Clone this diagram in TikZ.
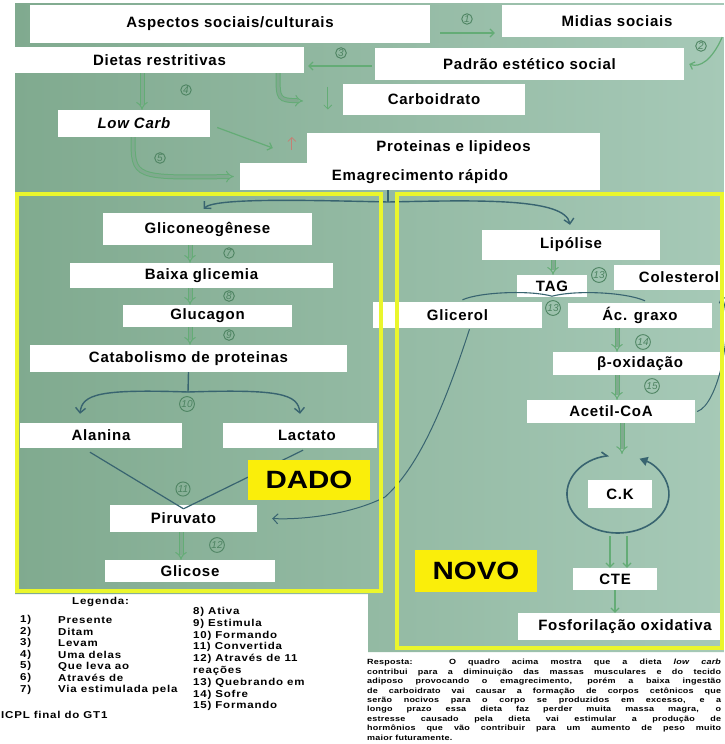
\documentclass[tikz,border=0pt]{standalone}
\usepackage{fontspec}
\setmainfont{Liberation Sans}
\newfontfamily\boxfont{Liberation Sans}[LetterSpace=5]
\newfontfamily\tagfont{Liberation Sans}[FakeStretch=1.18]
\newfontfamily\legfont{Liberation Sans}[FakeStretch=1.15,LetterSpace=8]
\newfontfamily\respfont{Liberation Sans}[FakeStretch=1.2,LetterSpace=3]
\usetikzlibrary{arrows.meta}

\definecolor{board}{RGB}{128,170,143}
\definecolor{boardlight}{RGB}{166,201,183}
\definecolor{frameyel}{RGB}{234,246,44}
\definecolor{tagyel}{RGB}{250,238,10}
\definecolor{penlight}{RGB}{100,172,118}
\definecolor{pennum}{RGB}{78,132,98}
\definecolor{pendark}{RGB}{56,100,112}
\definecolor{penred}{RGB}{196,128,116}

\begin{document}
\begin{tikzpicture}[x=1pt,y=-1pt,
  box/.style={fill=white, inner sep=0pt, font=\boxfont\bfseries\fontsize{15}{17}\selectfont},
  bigtag/.style={fill=tagyel, inner sep=0pt, font=\tagfont\bfseries\fontsize{25}{28}\selectfont},
  numlbl/.style={circle, draw=pennum, text=pennum, line width=0.9pt, inner sep=0.6pt, font=\itshape\fontsize{10}{10}\selectfont},
  pen/.style={draw=penlight, line width=1.2pt, -{Straight Barb[length=4pt,width=8pt]}},
  dbl/.style={draw=penlight, double=board, double distance=3pt, line width=1pt, -{Implies}},
  dline/.style={draw=pendark, line width=1.4pt},
  dpen/.style={dline, -{Straight Barb[length=5pt,width=10pt]}},
  frame/.style={draw=frameyel, line width=3.5pt},
  leg/.style={inner sep=0pt, anchor=west, font=\legfont\bfseries\fontsize{10}{12}\selectfont},
  resp/.style={inner sep=0pt, anchor=west, font=\respfont\bfseries\fontsize{7.5}{9}\selectfont},
]

% page and the photographed board
\useasboundingbox (0,0) rectangle (724,744);
\fill[white] (0,0) rectangle (724,744);
\shade[left color=board, right color=boardlight] (15,3) -- (724,3) -- (724,652) -- (368,652) -- (368,594) -- (15,594) -- cycle;

% top boxes
\node[box, minimum width=400pt, minimum height=38pt] (aspectos) at (230,24) {Aspectos sociais/culturais};
\node[box, minimum width=230pt, minimum height=32pt] (midias) at (617,21) {Midias sociais};
\node[box, minimum width=289pt, minimum height=26pt] (dietas) at (159.5,60) {Dietas restritivas};
\node[box, minimum width=309pt, minimum height=32pt] (padrao) at (529.5,64) {Padrão estético social};
\node[box, minimum width=182pt, minimum height=31pt] (carbo) at (434,99.5) {Carboidrato};
\node[box, minimum width=152pt, minimum height=27pt] (lowcarb) at (134,123.5) {\itshape Low Carb};
\node[box, minimum width=293pt, minimum height=30pt] (proteinas) at (453.5,148) {Proteinas e lipideos};
\node[box, minimum width=360pt, minimum height=27pt] (emagrec) at (420,176.5) {Emagrecimento rápido};

% left frame (DADO)
\node[box, minimum width=209pt, minimum height=32pt] (gliconeo) at (207.5,229) {Gliconeogênese};
\node[box, minimum width=263pt, minimum height=25pt] (baixa) at (201.5,275.5) {Baixa glicemia};
\node[box, minimum width=169pt, minimum height=22pt] (glucagon) at (207.5,316) {Glucagon};
\node[box, minimum width=317pt, minimum height=27pt] (catab) at (188.5,358.5) {Catabolismo de proteinas};
\node[box, minimum width=162pt, minimum height=25pt] (alanina) at (101,435.5) {Alanina};
\node[box, minimum width=154pt, minimum height=25pt] (lactato) at (300,435.5) {\hspace*{14pt}Lactato};
\node[box, minimum width=147pt, minimum height=27pt] (piruvato) at (183.5,518.5) {Piruvato};
\node[box, minimum width=170pt, minimum height=22pt] (glicose) at (190,571) {Glicose};

% right frame (NOVO)
\node[box, minimum width=178pt, minimum height=30pt] (lipolise) at (571,245) {Lipólise};
\node[box, minimum width=70pt, minimum height=22pt] (tag) at (552,286) {TAG};
\node[box, minimum width=130pt, minimum height=25pt] (colest) at (679,277.5) {Colesterol};
\node[box, minimum width=169pt, minimum height=26pt] (glicerol) at (457.5,315) {Glicerol};
\node[box, minimum width=144pt, minimum height=25pt] (acgraxo) at (640,315.5) {Ác. graxo};
\node[box, minimum width=174pt, minimum height=23pt] (betaox) at (640,363.5) {β-oxidação};
\node[box, minimum width=168pt, minimum height=23pt] (acetil) at (611,411.5) {Acetil-CoA};
\node[box, minimum width=64pt, minimum height=28pt] (ck) at (620,494) {C.K};
\node[box, minimum width=84pt, minimum height=22pt] (cte) at (615,579) {CTE};
\node[box, minimum width=214pt, minimum height=27pt] (fosfo) at (625,626.5) {Fosforilação oxidativa};

% hand drawn arrows, top
\draw[pen] ([shift={(10,9)}]aspectos.east) -- ([shift={(-7,12)}]midias.west);
\draw[pen] ([xshift=-10pt]midias.south east) .. controls (712,60) and (700,68) .. ([xshift=5pt]padrao.east);
\draw[pen] ([shift={(-3,2)}]padrao.west) -- ([shift={(4,6)}]dietas.east);
\draw[pen, line width=0.8pt] ([shift={(-15,-13)}]carbo.west) -- ([shift={(-15,10)}]carbo.west);
\draw[dbl] (dietas.south -| 142,0) -- (lowcarb.north -| 142,0);
\draw[dbl] (dietas.south -| 278,0) .. controls (278,100) .. (303,101);
\draw[pen] ([shift={(7,4)}]lowcarb.east) -- ([xshift=-34pt]proteinas.west);
\draw[pen, draw=penred, line width=0.7pt] ([shift={(-15,2)}]proteinas.west) -- ([shift={(-15,-11)}]proteinas.west);
\draw[dbl] (lowcarb.south -| 133,0) .. controls (133,178) .. ([xshift=-6pt]emagrec.west);

% split of Emagrecimento rapido
\coordinate (split) at (388,202);
\draw[dline] (emagrec.south -| split) -- (split);
\draw[dpen] (split) .. controls (300,200) and (215,198) .. ([shift={(-4,-4)}]gliconeo.north);
\draw[dpen] (split) .. controls (480,200) and (565,198) .. ([shift={(-1,-5)}]lipolise.north);

% left column
\draw[dbl] (gliconeo.south -| 190,0) -- (baixa.north -| 190,0);
\draw[dbl] (baixa.south -| 190,0) -- (glucagon.north -| 190,0);
\draw[dbl] (glucagon.south -| 190,0) -- (catab.north -| 190,0);
\coordinate (fork) at (188,392);
\draw[dline] (catab.south) -- (fork);
\draw[dpen] (fork) .. controls (100,389) and (82,394) .. ([shift={(-21,-9)}]alanina.north);
\draw[dpen] (fork) .. controls (280,389) and (298,394) .. ([shift={(0,-9)}]lactato.north);
\draw[dline, line width=1.2pt] ([shift={(-11,4)}]alanina.south) -- ([yshift=-4pt]piruvato.north);
\draw[dline, line width=1.2pt] ([shift={(3,2)}]lactato.south) -- ([yshift=-4pt]piruvato.north);
\draw[dbl] (piruvato.south -| 181,0) -- (glicose.north -| 181,0);
\draw[dpen, line width=1pt] ([shift={(12,1)}]glicerol.south) .. controls (440,420) and (415,470) .. (385,497) .. controls (350,515) and (300,520) .. ([xshift=15pt]piruvato.east);

% right column
\draw[dbl] (lipolise.south -| 553,0) -- (tag.north -| 553,0);
\draw[dline, line width=1.1pt] ([shift={(5,-2)}]glicerol.north) .. controls (480,292) and (530,290) .. ([yshift=1pt]tag.south) .. controls (575,290) and (625,292) .. ([shift={(5,-2)}]acgraxo.north);
\draw[dbl] (acgraxo.south -| 617,0) -- (betaox.north -| 617,0);
\draw[dbl] (betaox.south -| 617,0) -- (acetil.north -| 617,0);
\coordinate (cktop) at (622,454);
\draw[dbl] (acetil.south -| cktop) -- (cktop);
\coordinate (cycstart) at (609.1,455.6);
\draw[dline, line width=1.6pt, {Straight Barb[left,length=5pt,width=9pt]}-{Triangle[length=8pt,width=9pt]}] (cycstart) arc[start angle=100, end angle=425, x radius=51pt, y radius=39pt];
\coordinate (ckbot) at (618,536);
\draw[pen] ([xshift=-8pt]ckbot) -- (cte.north -| 610,0);
\draw[pen] ([xshift=9pt]ckbot) -- (cte.north -| 627,0);
\draw[pen] (cte.south) -- (fosfo.north -| cte.south);
\draw[dpen, line width=1pt] ([xshift=2pt]acetil.east) .. controls (718,405) and (734,330) .. ([shift={(43,6)}]colest.south);

% tags
\node[bigtag, minimum width=122pt, minimum height=40pt] (dado) at (309,480) {DADO};
\node[bigtag, minimum width=122pt, minimum height=42pt] (novo) at (476,571) {NOVO};

% yellow frames
\draw[frame] (17,194) rectangle (381,591);
\draw[frame] (397,194) rectangle (722,648);

% circled numbers
\node[numlbl] (n1) at (467,19) {1};
\node[numlbl] (n2) at (701,46) {2};
\node[numlbl] (n3) at (341,53) {3};
\node[numlbl] (n4) at (186,90) {4};
\node[numlbl] (n5) at (160,158) {5};
\node[numlbl] (n7) at (229,253) {7};
\node[numlbl] (n8) at (229,296) {8};
\node[numlbl] (n9) at (229,335) {9};
\node[numlbl] (n10) at (187,404) {10};
\node[numlbl] (n11) at (183,489) {11};
\node[numlbl] (n12) at (217,545) {12};
\node[numlbl] (n13a) at (599,275) {13};
\node[numlbl] (n13b) at (553,308) {13};
\node[numlbl] (n14) at (643,342) {14};
\node[numlbl] (n15) at (652,386) {15};

% legend
\node[leg] (leghead) at (72,602) {Legenda:};
\foreach \t [count=\i] in {Presente, Ditam, Levam, Uma delas, Que leva ao, Através de, Via estimulada pela} {
  \node[leg] (legn\i) at (20,608.4+11.6*\i) {\i)};
  \node[leg] (legt\i) at (58,608.4+11.6*\i) {\t};
}
\foreach \t [count=\i] in {8) Ativa, 9) Estimula, 10) Formando, 11) Convertida, 12) Através de 11, reações, 13) Quebrando em, 14) Sofre, 15) Formando} {
  \node[leg] (legb\i) at (193,600.2+11.8*\i) {\t};
}
\node[leg] (cpl) at (1,715) {ICPL final do GT1};

% answer text
\foreach \l [count=\i] in {{Resposta:\ \ \ O quadro acima mostra que a dieta \textit{low carb}},
  {contribui para a diminuição das massas musculares e do tecido},
  {adiposo provocando o emagrecimento, porém a baixa ingestão},
  {de carboidrato vai causar a formação de corpos cetônicos que},
  {serão nocivos para o corpo se produzidos em excesso, e a},
  {longo prazo essa dieta faz perder muita massa magra, o},
  {estresse causado pela dieta vai estimular a produção de},
  {hormônios que vão contribuir para um aumento de peso muito}} {
  \node[resp] (resp\i) at (367,653.6+9.4*\i) {\makebox[354pt][s]{\l}};
}
\node[resp] (resp9) at (367,738.2) {maior futuramente.};

\end{tikzpicture}
\end{document}
